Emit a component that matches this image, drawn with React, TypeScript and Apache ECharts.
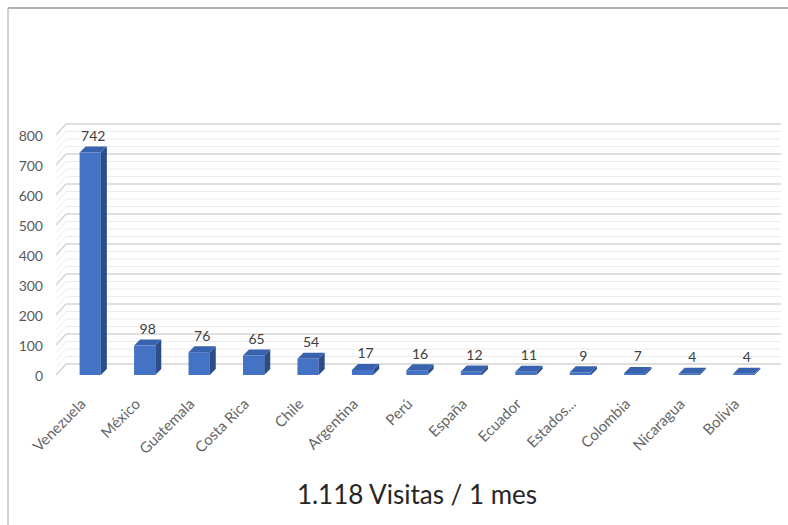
import React, { useEffect, useRef } from "react";
import * as echarts from "echarts";

const categories = [
  "Venezuela", "México", "Guatemala", "Costa Rica", "Chile", "Argentina", "Perú",
  "España", "Ecuador", "Estados...", "Colombia", "Nicaragua", "Bolivia",
];
const visits = [742, 98, 76, 65, 54, 17, 16, 12, 11, 9, 7, 4, 4];
const yMin = 0;
const yMax = 800;
const yInterval = 100;
const titleText = "1.118 Visitas / 1 mes";

const FONT = "Lato, 'Liberation Sans', sans-serif";

// wall lines (major at every interval, 3 minor between)
const wallLevels: number[][] = [];
for (let v = yMin; v <= yMax; v += yInterval / 4) {
  wallLevels.push([v, v % yInterval === 0 ? 1 : 0]);
}

export default function App() {
  const ref = useRef<HTMLDivElement>(null);
  useEffect(() => {
    if (!ref.current) return;
    const chart = echarts.init(ref.current, null, { renderer: "svg" });
    const WALL_DX = 10;
    const WALL_DY = -11;
    const BAR_DX = 6;
    const BAR_DY = -6;
    chart.setOption({
      animation: false,
      backgroundColor: "#ffffff",
      grid: { left: 63, right: 17, top: 135, bottom: 150, containLabel: false },
      xAxis: {
        type: "category",
        data: categories,
        axisLine: { show: false },
        axisTick: { show: false },
        splitLine: { show: false },
        axisLabel: {
          rotate: 45,
          margin: 18,
          interval: 0,
          color: "#666666",
          fontSize: 15,
          fontFamily: FONT,
          padding: [0, 11, 0, 0],
        },
      },
      yAxis: {
        type: "value",
        min: yMin,
        max: yMax,
        interval: yInterval,
        axisLine: { show: false },
        axisTick: { show: false },
        splitLine: { show: false },
        axisLabel: {
          margin: 20,
          color: "#595959",
          fontSize: 14,
          fontFamily: FONT,
        },
      },
      graphic: [
        {
          type: "line",
          shape: { x1: 8, y1: 8, x2: 788, y2: 8 },
          style: { stroke: "#9a9a9a", lineWidth: 1.5 },
          silent: true,
        },
        {
          type: "line",
          shape: { x1: 8, y1: 8, x2: 8, y2: 525 },
          style: { stroke: "#a6a6a6", lineWidth: 1 },
          silent: true,
        },
        {
          type: "text",
          x: 417,
          y: 494,
          style: {
            text: titleText,
            fill: "#262626",
            font: `26px ${FONT}`,
            textAlign: "center",
            textVerticalAlign: "middle",
          },
          silent: true,
        },
      ],
      series: [
        {
          type: "custom",
          name: "wall",
          silent: true,
          z: 1,
          data: wallLevels,
          renderItem: (params: any, api: any) => {
            const v = api.value(0);
            const major = api.value(1) === 1;
            const cs = params.coordSys;
            const y = api.coord([0, v])[1];
            const fl = cs.x - 7;
            const right = cs.x + cs.width + WALL_DX;
            const style = {
              stroke: major ? "#d4d4d4" : "#ececec",
              lineWidth: major ? 1.5 : 1,
            };
            return {
              type: "group",
              children: [
                {
                  type: "line",
                  shape: { x1: fl + WALL_DX, y1: y + WALL_DY, x2: right, y2: y + WALL_DY },
                  style,
                },
                {
                  type: "line",
                  shape: { x1: fl, y1: y, x2: fl + WALL_DX, y2: y + WALL_DY },
                  style,
                },
              ],
            };
          },
        },
        {
          type: "custom",
          name: "Visitas",
          z: 5,
          data: visits.map((v, i) => [i, v]),
          renderItem: (params: any, api: any) => {
            const idx = api.value(0);
            const val = api.value(1);
            const base = api.coord([idx, 0]);
            const top = api.coord([idx, val]);
            const bw = api.size([1, 0])[0] * 0.39;
            const x0 = base[0] - bw / 2;
            const x1 = x0 + bw;
            const yT = top[1];
            const yB = base[1];
            return {
              type: "group",
              children: [
                {
                  type: "rect",
                  shape: { x: x0, y: yT, width: bw, height: Math.max(yB - yT, 0.5) },
                  style: { fill: "#4472C4" },
                },
                {
                  type: "polygon",
                  shape: {
                    points: [
                      [x1, yT],
                      [x1 + BAR_DX, yT + BAR_DY],
                      [x1 + BAR_DX, yB + BAR_DY],
                      [x1, yB],
                    ],
                  },
                  style: { fill: "#2B4D8A" },
                },
                {
                  type: "polygon",
                  shape: {
                    points: [
                      [x0, yT],
                      [x0 + BAR_DX, yT + BAR_DY],
                      [x1 + BAR_DX, yT + BAR_DY],
                      [x1, yT],
                    ],
                  },
                  style: { fill: "#3862AE" },
                },
                {
                  type: "text",
                  x: x0 + bw / 2 + BAR_DX / 2,
                  y: yT + BAR_DY - 4,
                  style: {
                    text: String(val),
                    fill: "#404040",
                    font: `14px ${FONT}`,
                    textAlign: "center",
                    textVerticalAlign: "bottom",
                  },
                },
              ],
            };
          },
        },
      ],
    });
    return () => chart.dispose();
  }, []);
  return (
    <div
      ref={ref}
      style={{ position: "fixed", left: 0, top: 0, width: 788, height: 525 }}
    />
  );
}
